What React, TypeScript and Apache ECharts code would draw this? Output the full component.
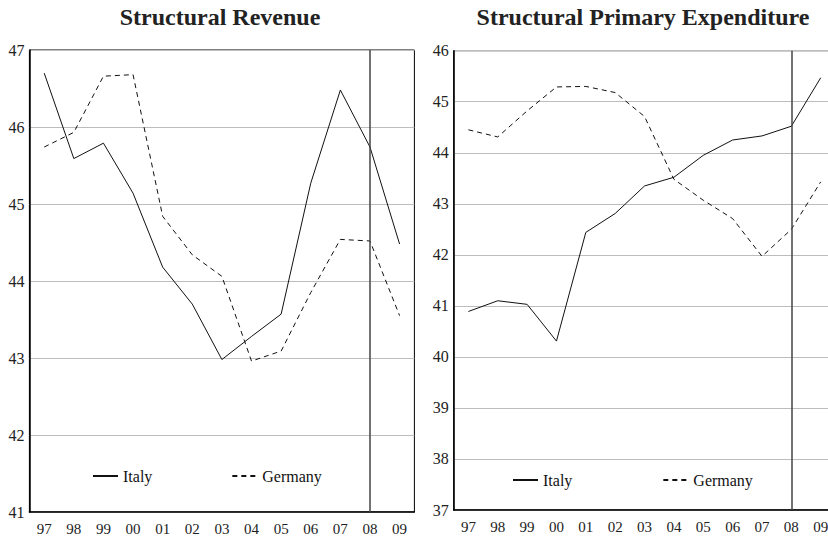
import React, { useEffect, useRef } from "react";
import * as echarts from "echarts";

const years = ["97", "98", "99", "00", "01", "02", "03", "04", "05", "06", "07", "08", "09"];
const revenueItaly = [46.7, 45.59, 45.79, 45.14, 44.18, 43.7, 42.98, 43.28, 43.57, 45.27, 46.48, 45.74, 44.48];
const revenueGermany = [45.74, 45.93, 46.66, 46.68, 44.84, 44.34, 44.06, 42.96, 43.09, 43.85, 44.54, 44.52, 43.55];
const expItaly = [40.89, 41.1, 41.03, 40.31, 42.44, 42.81, 43.35, 43.52, 43.95, 44.25, 44.33, 44.52, 45.47];
const expGermany = [44.45, 44.31, 44.82, 45.29, 45.3, 45.18, 44.71, 43.48, 43.07, 42.71, 41.97, 42.5, 43.43];
const titles = ["Structural Revenue", "Structural Primary Expenditure"];
const markYear = "08";

const FONT = "Liberation Serif";

export default function App() {
  const ref = useRef<HTMLDivElement>(null);
  useEffect(() => {
    if (!ref.current) return;
    const chart = echarts.init(ref.current, null, { renderer: "svg" });
    const xAxisBase = {
      type: "category",
      data: years,
      boundaryGap: true,
      axisLine: { lineStyle: { color: "#000", width: 1.5 } },
      axisTick: { inside: true, length: 3, lineStyle: { color: "#555" } },
      axisLabel: { fontFamily: FONT, fontSize: 15, color: "#222", margin: 9 },
      splitLine: { show: false },
    };
    const yAxisBase = {
      type: "value",
      interval: 1,
      axisLine: { show: true, lineStyle: { color: "#000", width: 1.5 } },
      axisTick: { show: false },
      axisLabel: { fontFamily: FONT, fontSize: 16, color: "#222", margin: 5 },
      splitLine: { lineStyle: { color: "#bdbdbd", width: 1 } },
    };
    const italyStyle = { color: "#111", width: 1, type: "solid" };
    const germanyStyle = { color: "#111", width: 1, type: [5, 4] };
    const markLine = {
      silent: true,
      symbol: "none",
      label: { show: false },
      lineStyle: { color: "#444", width: 1.5, type: "solid" },
      data: [{ xAxis: markYear }],
    };
    const legendBase = {
      itemWidth: 25,
      itemHeight: 14,
      itemStyle: { opacity: 0 },
      textStyle: { fontFamily: FONT, fontSize: 16, color: "#111" },
      data: ["Italy", "Germany"],
      selectedMode: false,
    };
    const titleStyle = { fontFamily: FONT, fontSize: 24, fontWeight: "bold", color: "#222" };
    chart.setOption({
      animation: false,
      backgroundColor: "#fff",
      title: [
        { text: titles[0], left: 215, top: 0, textAlign: "center", textStyle: titleStyle },
        { text: titles[1], left: 638, top: 0, textAlign: "center", textStyle: titleStyle },
      ],
      legend: [
        { ...legendBase, left: 87, top: 463, itemGap: 79 },
        { ...legendBase, left: 507, top: 467, itemGap: 90 },
      ],
      grid: [
        { left: 29.4, top: 50, width: 385, height: 462, show: true, borderColor: "#000", borderWidth: 1, containLabel: false },
        { left: 453.7, top: 50.7, width: 381.7, height: 459.3, show: true, borderColor: "#000", borderWidth: 1, containLabel: false },
      ],
      xAxis: [
        { ...xAxisBase, gridIndex: 0 },
        { ...xAxisBase, gridIndex: 1 },
      ],
      yAxis: [
        { ...yAxisBase, gridIndex: 0, min: 41, max: 47 },
        { ...yAxisBase, gridIndex: 1, min: 37, max: 46 },
      ],
      series: [
        { name: "Italy", type: "line", xAxisIndex: 0, yAxisIndex: 0, data: revenueItaly, symbol: "none", lineStyle: italyStyle, itemStyle: { color: "#111" }, markLine },
        { name: "Germany", type: "line", xAxisIndex: 0, yAxisIndex: 0, data: revenueGermany, symbol: "none", lineStyle: germanyStyle, itemStyle: { color: "#111" } },
        { name: "Italy", type: "line", xAxisIndex: 1, yAxisIndex: 1, data: expItaly, symbol: "none", lineStyle: italyStyle, itemStyle: { color: "#111" }, markLine },
        { name: "Germany", type: "line", xAxisIndex: 1, yAxisIndex: 1, data: expGermany, symbol: "none", lineStyle: germanyStyle, itemStyle: { color: "#111" } },
      ],
    });
    return () => chart.dispose();
  }, []);
  return (
    <div style={{ position: "absolute", left: 0, top: 0, width: 828, height: 536, overflow: "hidden" }}>
      <div ref={ref} style={{ width: 845, height: 536 }} />
    </div>
  );
}
